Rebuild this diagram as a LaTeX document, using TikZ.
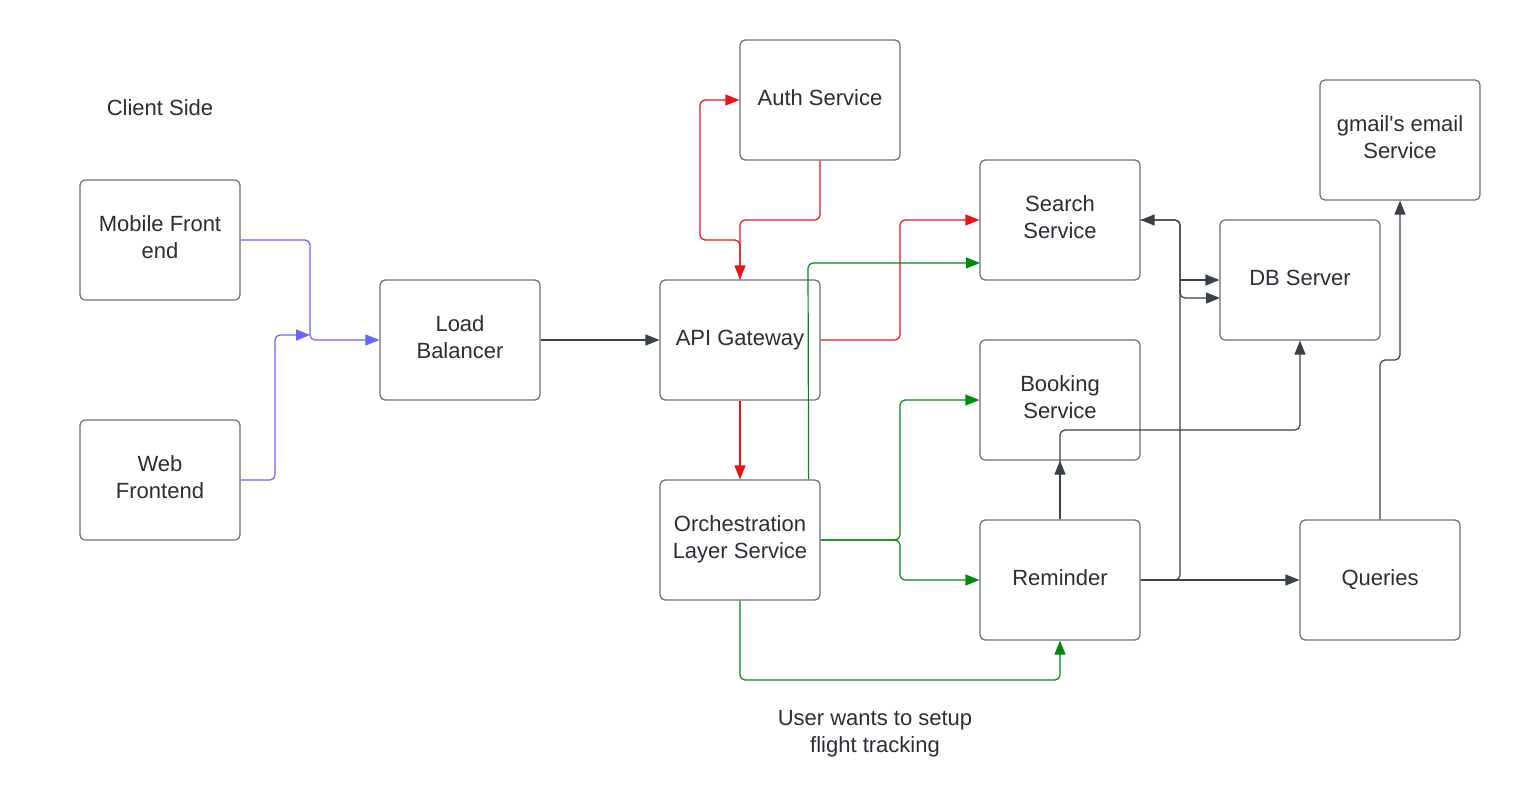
\documentclass[tikz,border=0pt]{standalone}
\usepackage{fontspec}
\setmainfont{Liberation Sans}[Ligatures=TeXOff]
\usetikzlibrary{arrows.meta}
\definecolor{ln}{HTML}{3A414A}
\definecolor{bd}{HTML}{6B6F76}
\definecolor{tx}{HTML}{2A2F36}
\definecolor{rd}{HTML}{E81313}
\definecolor{gr}{HTML}{008A0E}
\definecolor{bl}{HTML}{6666FF}
\newcommand\tbx[1]{\begin{tabular}{@{}c@{}}#1\end{tabular}}
\begin{document}
\begin{tikzpicture}[x=1pt,y=-1pt,
  txt/.style={text=tx,font=\fontsize{22}{27}\selectfont,inner sep=0pt},
  box/.style={txt,draw=bd,line width=1.2pt,rounded corners=5pt,minimum width=160pt,minimum height=120pt},
  conn/.style={line width=1.2pt,rounded corners=5pt,-{Triangle[length=14pt,width=11pt]}}]
\useasboundingbox[fill=white] (0,0) rectangle (1520,803);
% nodes
\node[txt] (client) at (160,110.5) {\tbx{Client Side}};
\node[box] (mob) at (160,240) {\tbx{Mobile Front\\end}};
\node[box] (web) at (160,480) {\tbx{Web\\Frontend}};
\node[box] (lb) at (460,340) {\tbx{Load\\Balancer}};
\node[box] (api) at (740,340) {\tbx{API Gateway}};
\node[box] (auth) at (820,100) {\tbx{Auth Service}};
\node[box] (orch) at (740,540) {\tbx{Orchestration\\Layer Service}};
\node[box] (search) at (1060,220) {\tbx{Search\\Service}};
\node[box] (book) at (1060,400) {\tbx{Booking\\Service}};
\node[box] (rem) at (1060,580) {\tbx{Reminder}};
\node[box] (db) at (1300,280) {\tbx{DB Server}};
\node[box] (gm) at (1400,140) {\tbx{gmail's email\\Service}};
\node[box] (que) at (1380,580) {\tbx{Queries}};
\node[txt] (note) at (875,734) {\tbx{User wants to setup\\flight tracking}};
\coordinate (wj) at (310,335);
\coordinate (s2) at (980,263);
\coordinate (d2) at (1220,298);
\coordinate (j1) at (1180,280);
% connectors
\draw[conn,bl] (mob.east) -- (310,240) -- (310,340) -- (lb.west);
\draw[conn,bl] (web.east) -- (275,480) -- (275,335) -- (wj);
\draw[conn,ln] (lb.east) -- (api.west);
\draw[conn,rd] (auth.south) -- (820,220) -- (740,220) -- (api.north);
\draw[conn,rd] (api.north) -- (740,240) -- (700,240) -- (700,100) -- (auth.west);
\draw[conn,rd] (api.east) -- (900,340) -- (900,220) -- (search.west);
\draw[conn,rd] (api.south) -- (orch.north);
\draw[conn,gr] ([xshift=-12pt]orch.north east) -- (808,263) -- (s2);
\draw[conn,gr] (orch.east) -- (900,540) -- (900,400) -- (book.west);
\draw[conn,gr] (orch.east) -- (900,540) -- (900,580) -- (rem.west);
\draw[conn,gr] (orch.south) -- (740,680) -- (1060,680) -- (rem.south);
\draw[conn,ln] (rem.north) -- (book.south);
\draw[conn,ln] (rem.north) -- (1060,430) -- (1300,430) -- (db.south);
\draw[conn,ln] (rem.east) -- (que.west);
\draw[conn,ln] (rem.east) -- (1180,580) -- (1180,220) -- (search.east);
\draw[conn,ln] (j1) -- (db.west);
\draw[conn,ln] (search.east) -- (1180,220) -- (1180,298) -- (d2);
\draw[conn,ln] (que.north) -- (1380,360) -- (1400,360) -- (gm.south);
\end{tikzpicture}
\end{document}
